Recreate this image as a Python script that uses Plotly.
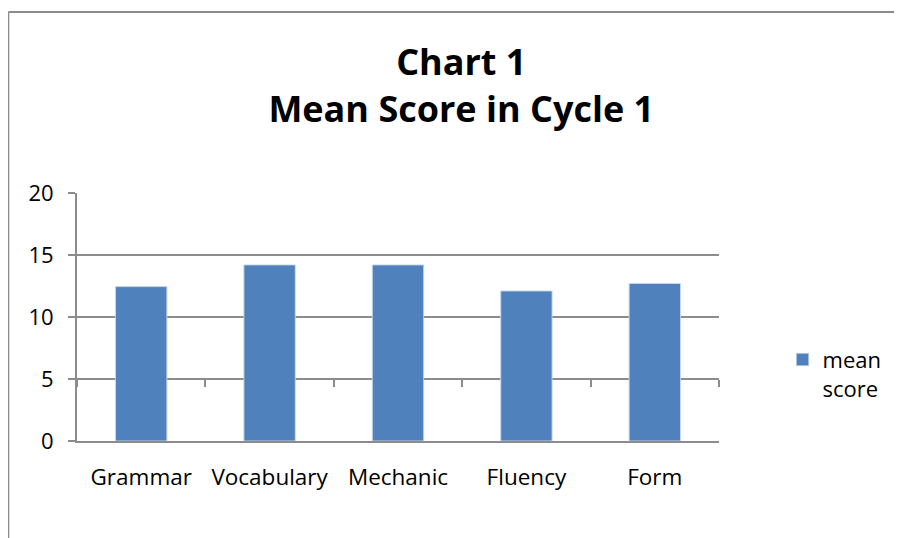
import plotly.graph_objects as go

# data
categories = ['Grammar', 'Vocabulary', 'Mechanic', 'Fluency', 'Form']
mean_score = [12.45, 14.2, 14.2, 12.1, 12.7]
y_ticks = [0, 5, 10, 15, 20]

bar_blue = '#4F81BD'
grid_gray = '#8C8C8C'
font_family = 'Open Sans, Noto Sans, sans-serif'

fig = go.Figure()

fig.add_trace(go.Bar(x=categories, y=mean_score, name='mean<br>score',
                     marker=dict(color=bar_blue, line=dict(color='#A9C0DE', width=0.6))))

# invisible copy on a second axis, only used to draw the category tick marks at the 5 line
fig.add_trace(go.Bar(x=categories, y=mean_score, xaxis='x2', showlegend=False,
                     marker=dict(color='rgba(0,0,0,0)'), hoverinfo='skip'))

# page body has an 8px margin, so the figure is a bit smaller than the window
fig.update_layout(
    width=894, height=530,
    margin=dict(l=69, r=183, t=185, b=97),
    paper_bgcolor='white', plot_bgcolor='white',
    font=dict(family=font_family, size=22.5, color='black'),
    bargap=0.6,
    title=dict(text='<b>Chart 1<br>Mean Score in Cycle 1</b>',
               x=0.507, xanchor='center', y=0.873, yanchor='middle',
               font=dict(size=36, family=font_family, color='black')),
    xaxis=dict(type='category', showgrid=False, showline=True, linecolor=grid_gray,
               linewidth=2, ticks='', ticklabelstandoff=15, range=[-0.5, 4.5]),
    xaxis2=dict(type='category', overlaying='x', anchor='free', position=0.25,
                showgrid=False, showline=False, showticklabels=False,
                ticks='outside', tickson='boundaries', ticklen=7, tickwidth=2,
                tickcolor=grid_gray, range=[-0.5, 4.5]),
    yaxis=dict(range=[0, 20], tickvals=y_ticks, showgrid=True, gridcolor=grid_gray,
               gridwidth=2, showline=True, linecolor=grid_gray, linewidth=2,
               ticks='outside', ticklen=7, tickwidth=2, tickcolor=grid_gray,
               zeroline=False, ticklabelstandoff=10, tickfont=dict(size=22)),
    legend=dict(x=1.099, y=0.412, xanchor='left', yanchor='top', valign='top',
                font=dict(size=22), itemwidth=30, tracegroupgap=0),
)

# outer chart-area border (left and top edges visible in the reference)
fig.add_shape(type='line', xref='paper', yref='paper', x0=-0.107, x1=-0.107,
              y0=-0.4, y1=1.73, line=dict(color=grid_gray, width=2))
fig.add_shape(type='line', xref='paper', yref='paper', x0=-0.107, x1=1.3,
              y0=1.73, y1=1.73, line=dict(color=grid_gray, width=2))

fig.write_html('out.html')
